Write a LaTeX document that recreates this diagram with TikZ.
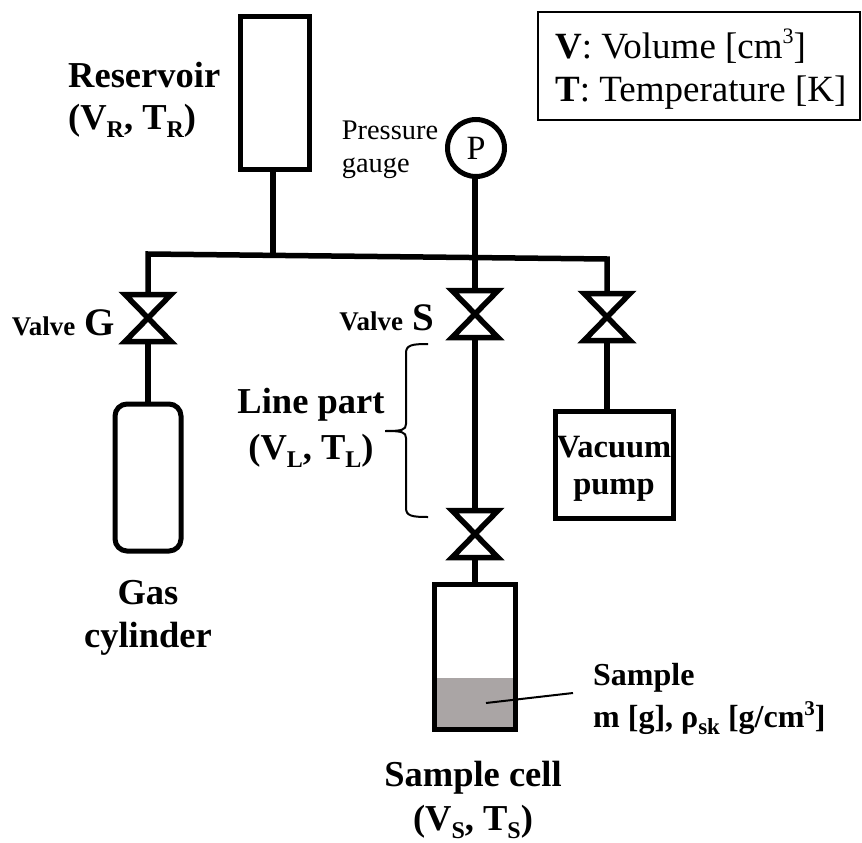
\documentclass[tikz,border=0pt]{standalone}
\usepackage{fontspec}
\setmainfont{Liberation Serif}
\definecolor{samplegray}{RGB}{170,165,165}
\newcommand{\fs}[1]{\fontsize{#1}{#1}\selectfont}
\newcommand{\subs}[1]{\raisebox{-0.22em}{\fs{24}#1}}
\newcommand{\sups}[1]{\raisebox{0.42em}{\fs{22}#1}}
\tikzset{
  pipe/.style={line width=5.5pt},
  vessel/.style={draw,line width=5pt,inner sep=0pt,outer sep=0pt,anchor=north west},
  valvebox/.style={inner sep=0pt,outer sep=0pt,minimum width=46pt,minimum height=47pt},
  bowtie/.style={line width=5.5pt,miter limit=10},
  boldlabel/.style={font=\fs{36.5}\bfseries,align=center,inner sep=0pt},
  thinlabel/.style={font=\fs{28.4},align=left,inner sep=0pt},
  legendbox/.style={draw,line width=2.5pt,inner sep=0pt,outer sep=0pt,anchor=north west},
  thinline/.style={line width=2pt}
}
\newcommand{\valve}[3]{%
  \node[valvebox] (#1) at (#2,#3) {};
  \draw[bowtie] (#1.north west) -- (#1.south east) -- (#1.south west) -- (#1.north east) -- cycle;
}
\begin{document}
\begin{tikzpicture}[x=1pt,y=-1pt]
\useasboundingbox (0,0) rectangle (862,843);
% vessels
\node[vessel,minimum width=69pt,minimum height=152pt] (res) at (240,17) {};
\node[vessel,circle,anchor=center,minimum size=57pt,font=\fs{34}] (gauge) at (476,148) {P};
\node[vessel,minimum width=66pt,minimum height=147pt,rounded corners=12pt] (cyl) at (115,404) {};
\node[vessel,minimum width=118pt,minimum height=107pt] (pump) at (555,411) {};
\node[legendbox,minimum width=322pt,minimum height=108pt] (legend) at (538,12) {};
% sample cell
\fill[samplegray] (434,678) rectangle (515,729);
\node[vessel,minimum width=81pt,minimum height=145pt] (cell) at (434,584) {};
% junctions
\coordinate (jl) at (148,254);
\coordinate (jr) at (607,259);
\coordinate (jres) at (273,255.5);
\coordinate (jgauge) at (475,257.5);
% valves
\valve{vg}{148}{318}
\valve{vs}{475}{314}
\valve{vv}{607}{317}
\valve{vc}{475}{534}
% pipes
\draw[pipe] (vg.north) -- (jl) -- (jr) -- (vv.north);
\draw[pipe] (vg.south) -- (cyl.north -| vg.south);
\draw[pipe] (res.south -| jres) -- (jres);
\draw[pipe] (gauge.south -| jgauge) -- (jgauge) -- (vs.north);
\draw[pipe] (vs.south) -- (vc.north);
\draw[pipe] (vc.south) -- (cell.north -| vc.south);
\draw[pipe] (vv.south) -- (pump.north -| vv.south);
% pointer
\coordinate (ptr) at (486,703);
\coordinate (ptrend) at (573,693);
\draw[thinline] (ptr) -- (ptrend);
% brace
\coordinate (bt) at (428,344);
\coordinate (bb) at (428,517);
\coordinate (btip) at (385,431);
\draw[thinline] (bt) .. controls (412,344) and (406,345) .. (406,353)
  -- (406,424) .. controls (406,430) and (402,431) .. (btip)
  (btip) .. controls (402,431) and (406,432) .. (406,438)
  -- (406,508) .. controls (406,516) and (412,517) .. (bb);
% labels
\node[boldlabel,align=left,anchor=west] (lres) at (68,100) {Reservoir\\[5pt](V\subs{R}, T\subs{R})};
\node[thinlabel] (lgauge) at (390,150) {Pressure\\[5pt]gauge};
\node[boldlabel,anchor=east] (lvg) at (115,323) {{\fs{27}Valve} {\fs{39}G}};
\node[boldlabel,anchor=east] (lvs) at (434,318) {{\fs{27}Valve} {\fs{39}S}};
\node[boldlabel] (lline) at (311,428) {Line part\\[9pt](V\subs{L}, T\subs{L})};
\node[boldlabel] (lgas) at (148,618) {Gas\\[7pt]cylinder};
\node[boldlabel,font=\fs{32.5}\bfseries] (lpump) at (614,469) {Vacuum\\[4pt]pump};
\node[boldlabel,align=left,anchor=west,font=\fs{32}\bfseries] (lsample) at (593,699) {Sample\\[8pt]m [g], ρ\raisebox{-0.2em}{\fs{23}sk} [g/cm\raisebox{0.4em}{\fs{21}3}]};
\node[boldlabel] (lcell) at (473,800) {Sample cell\\[8pt](V\subs{S}, T\subs{S})};
\node[font=\fs{37},align=left,inner sep=0pt,anchor=west] (ltext) at (555,69) {\textbf{V}: Volume [cm\sups{3}]\\[6pt]\textbf{T}: Temperature [K]};
\end{tikzpicture}
\end{document}
